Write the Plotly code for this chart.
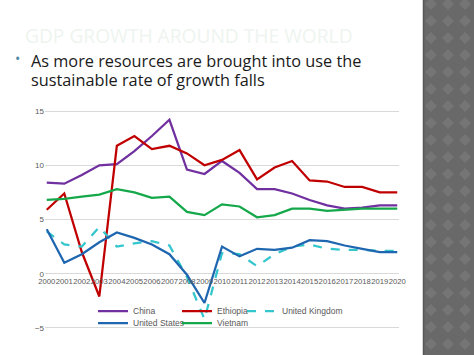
import plotly.graph_objects as go

years = list(range(2000, 2021))
china = [8.4, 8.3, 9.1, 10.0, 10.1, 11.3, 12.7, 14.2, 9.6, 9.2, 10.4, 9.3, 7.8, 7.8, 7.4, 6.8, 6.3, 6.0, 6.1, 6.3, 6.3]
ethiopia = [5.9, 7.4, 2.0, -2.1, 11.8, 12.7, 11.5, 11.8, 11.1, 10.0, 10.5, 11.4, 8.7, 9.8, 10.4, 8.6, 8.5, 8.0, 8.0, 7.5, 7.5]
uk = [3.9, 2.7, 2.5, 4.3, 2.5, 2.8, 3.0, 2.6, -0.3, -4.2, 1.9, 1.8, 0.7, 1.8, 2.5, 2.7, 2.3, 2.2, 2.2, 2.1, 2.1]
us = [4.1, 1.0, 1.8, 2.9, 3.8, 3.3, 2.7, 1.8, -0.1, -2.7, 2.5, 1.6, 2.3, 2.2, 2.4, 3.1, 3.0, 2.6, 2.3, 2.0, 2.0]
vietnam = [6.8, 6.9, 7.1, 7.3, 7.8, 7.5, 7.0, 7.1, 5.7, 5.4, 6.4, 6.2, 5.2, 5.4, 6.0, 6.0, 5.8, 5.9, 6.0, 6.0, 6.0]
y_ticks = [-5, 0, 5, 10, 15]

W, H = 474, 355
ML, MR, MT, MB = 45, 75, 110, 26
PW, PH = W - ML - MR, H - MT - MB


def px(x):
    return (x - ML) / PW


def py(y):
    return (H - MB - y) / PH


fig = go.Figure()
series = [
    ("China", china, "#7030a0", "solid", "legend", 93, 311),
    ("Ethiopia", ethiopia, "#c00000", "solid", "legend2", 177, 311),
    ("United Kingdom", uk, "#33c6cc", "dash", "legend3", 242, 311),
    ("United States", us, "#1f66b0", "solid", "legend4", 93, 323),
    ("Vietnam", vietnam, "#14a84a", "solid", "legend5", 177, 323),
]
for name, vals, col, dash, lg, lx, ly in series:
    fig.add_trace(go.Scatter(x=years, y=vals, name=name, mode="lines", legend=lg,
                             line=dict(color=col, width=2.25, dash=dash)))

shapes = []
# grey patterned side strip
shapes.append(dict(type="rect", xref="paper", yref="paper", x0=px(423), x1=px(475),
                   y0=py(356), y1=py(-1), fillcolor="#696969", line=dict(width=0), layer="below"))
d = 8.5
path = ""
yc = 4.0
while yc < 362:
    xc = 431.0
    while xc < 480:
        path += "M{:.4f},{:.4f} L{:.4f},{:.4f} L{:.4f},{:.4f} L{:.4f},{:.4f} Z ".format(
            px(max(xc - d * 0.7, 423)), py(yc), px(xc), py(yc - d * 0.7),
            px(xc + d * 0.7), py(yc), px(xc), py(min(yc + d * 0.7, 355)))
        xc += 2 * d
    yc += 2 * d
shapes.append(dict(type="path", xref="paper", yref="paper", path=path,
                   fillcolor="#757575", line=dict(width=0), layer="below"))
shapes.append(dict(type="line", xref="paper", yref="paper", x0=px(423.5), x1=px(423.5),
                   y0=py(356), y1=py(-1), line=dict(color="#575757", width=1.5), layer="below"))

annotations = [
    dict(text="GDP GROWTH AROUND THE WORLD", xref="paper", yref="paper", x=px(23), y=py(36),
         xanchor="left", yanchor="middle", showarrow=False,
         font=dict(family="Open Sans", size=19.2, color="#eef4ef")),
    dict(text="•", xref="paper", yref="paper", x=px(13), y=py(59),
         xanchor="left", yanchor="middle", showarrow=False,
         font=dict(family="Open Sans", size=14, color="#4f8aa6")),
    dict(text="As more resources are brought into use the", xref="paper", yref="paper",
         x=px(29), y=py(61), xanchor="left", yanchor="middle", showarrow=False,
         font=dict(family="Open Sans", size=16.3, color="#1a1a1a")),
    dict(text="sustainable rate of growth falls", xref="paper", yref="paper",
         x=px(29), y=py(80), xanchor="left", yanchor="middle", showarrow=False,
         font=dict(family="Open Sans", size=16.3, color="#1a1a1a")),
]

ymin, ymax = -5.1, 15.1
legends = {}
for name, vals, col, dash, lg, lx, ly in series:
    legends[lg] = dict(orientation="h", xref="paper", yref="paper", xanchor="left",
                       yanchor="middle", x=px(lx), y=py(ly),
                       font=dict(family="Liberation Sans", size=8.5, color="#595959"),
                       bgcolor="rgba(0,0,0,0)", itemwidth=30)

fig.update_layout(
    width=W, height=H, margin=dict(l=ML, r=MR, t=MT, b=MB),
    paper_bgcolor="white", plot_bgcolor="rgba(0,0,0,0)",
    shapes=shapes, annotations=annotations,
    showlegend=True,
    xaxis=dict(range=[1999.9, 2020.1], tickmode="array", tickvals=years,
               ticktext=[str(y) for y in years], tickangle=0,
               anchor="free", position=(0 - ymin) / (ymax - ymin),
               showgrid=False, zeroline=False, showline=False, ticks="",
               ticklabelstandoff=2,
               tickfont=dict(family="Liberation Sans", size=7.7, color="#595959")),
    yaxis=dict(range=[ymin, ymax], tickmode="array", tickvals=y_ticks,
               showgrid=True, gridcolor="#d9d9d9", gridwidth=1,
               zeroline=True, zerolinecolor="#d9d9d9", zerolinewidth=1,
               showline=False, ticks="",
               tickfont=dict(family="Liberation Sans", size=8, color="#595959")),
    **legends,
)

fig.write_html("out.html", config={"displayModeBar": False},
               post_script="document.body.style.margin='0';document.body.style.overflow='hidden';")
